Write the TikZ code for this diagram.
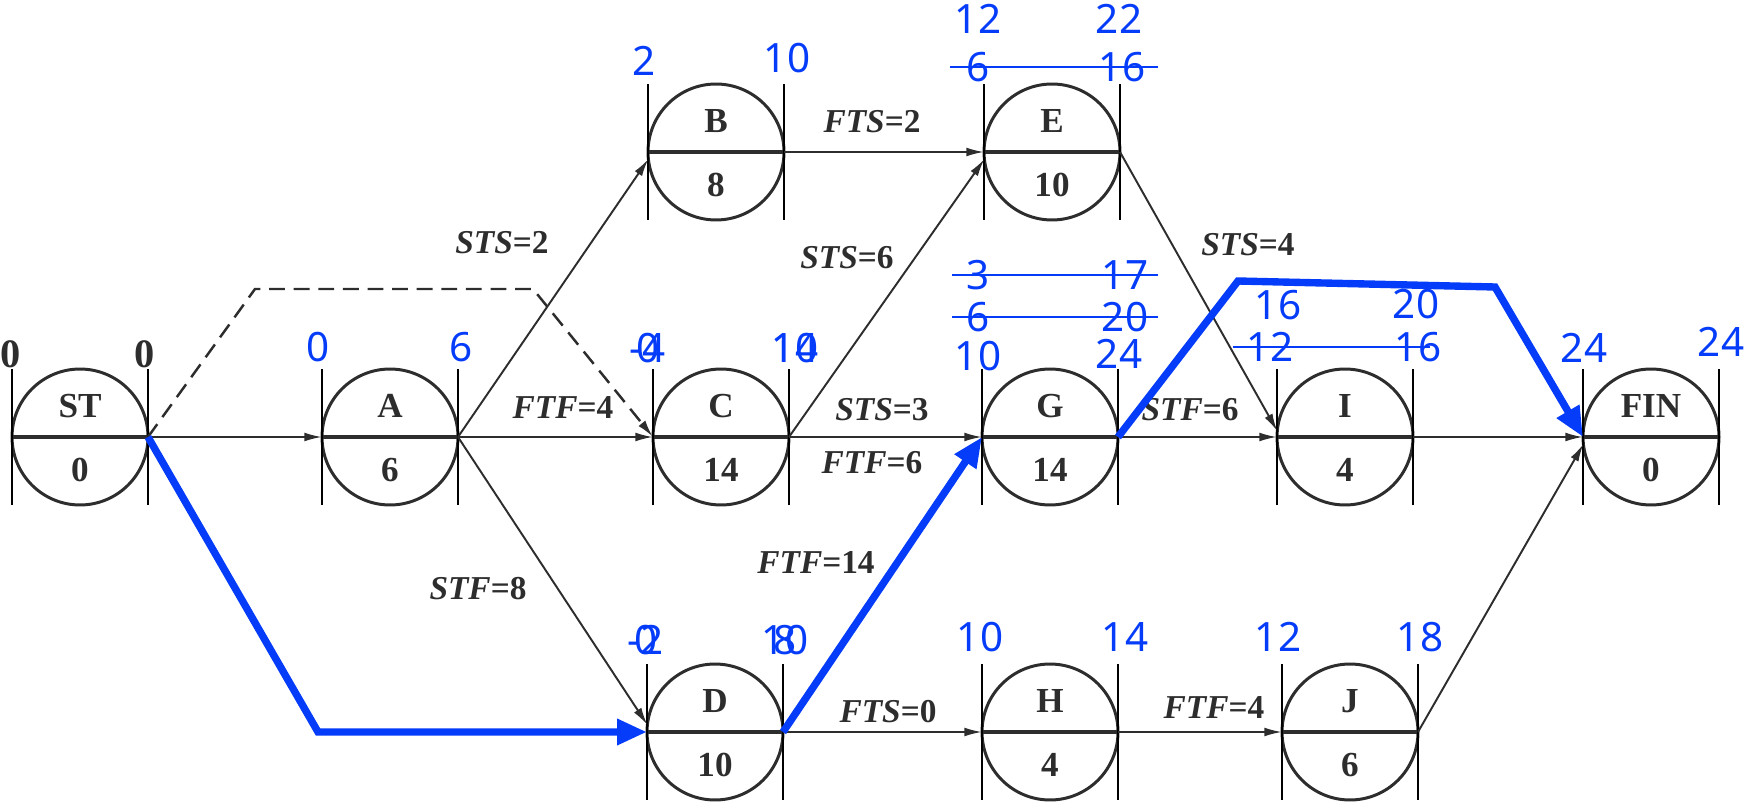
\documentclass[tikz,border=0pt]{standalone}
\usepackage{fontspec}
\setmainfont{Liberation Serif}
\newfontfamily\numfont{Noto Sans}
\usetikzlibrary{arrows.meta, calc}

\definecolor{cpmblue}{RGB}{5,60,250}
\definecolor{ink}{RGB}{45,45,45}

\begin{document}
\begin{tikzpicture}[
  x=0.02cm, y=-0.02cm,
  >=Latex,
  act/.style={draw=ink, circle, line width=1.7pt, minimum size=2.72cm, inner sep=0pt, outer sep=0pt},
  bar/.style={black, line width=1.3pt},
  diam/.style={ink, line width=2.4pt},
  link/.style={-{Latex[length=10pt,width=5pt]}, ink, line width=1.1pt},
  dashlink/.style={link, line width=1.4pt, dash pattern=on 9pt off 5pt},
  crit/.style={-{Triangle[length=17pt,width=14pt]}, cpmblue, line width=4.2pt,
    preaction={draw=gray, transform canvas={shift={(1pt,-1pt)}}}},
  lag/.style={font=\fontsize{19}{22}\selectfont\bfseries, text=ink},
  nm/.style={font=\fontsize{20}{24}\selectfont\bfseries, text=ink},
  st0/.style={font=\fontsize{23}{26}\selectfont\bfseries, text=ink},
  tm/.style={font=\numfont\fontsize{23}{26}\selectfont, text=cpmblue, inner sep=0pt},
  strike/.style={cpmblue, line width=0.9pt}
]
\useasboundingbox (0,0) rectangle (1746,803);

% activities: name / x / y / duration
\foreach \n/\x/\y/\d in {ST/80/437/0, A/390/437/6, B/716/152/8, C/721/437/14,
    D/715/732/10, E/1052/152/10, G/1050/437/14, H/1050/732/4, I/1345/437/4,
    J/1350/732/6, FIN/1651/437/0}{
  \node[act] (\n) at (\x,\y) {};
  \draw[diam] (\n.west) -- (\n.east);
  \draw[bar] ($(\n.west)+(0,-68)$) -- ($(\n.west)+(0,68)$);
  \draw[bar] ($(\n.east)+(0,-68)$) -- ($(\n.east)+(0,68)$);
  \node[nm] at ($(\n)+(0,-31)$) {\n};
  \node[nm] at ($(\n)+(0,33)$) {\d};
}

% start times of ST
\node[st0] (stES) at (11,354) {0};
\node[st0] (stEF) at (145,354) {0};

% links
\coordinate (stUp) at (255,289);
\coordinate (stOver) at (533,289);
\draw[link] (ST.east) -- (A.west);
\draw[dashlink] (ST.east) -- (stUp) -- (stOver) -- (C.west);
\draw[link] (A.east) -- (B.186);
\draw[link] (A.east) -- (C.west);
\draw[link] (A.east) -- (D.174);
\draw[link] (B.east) -- (E.west);
\draw[link] (C.east) -- (E.186);
\draw[link] (C.east) -- (G.west);
\draw[link] (D.east) -- (H.west);
\draw[link] (E.east) -- (I.175);
\draw[link] (G.east) -- (I.west);
\draw[link] (H.east) -- (J.west);
\draw[link] (I.east) -- (FIN.west);
\draw[link] (J.east) -- (FIN.186);

% lag labels
\node[lag] (lagAB) at (502,243) {{\itshape STS}=2};
\node[lag] (lagAC) at (563,408) {{\itshape FTF}=4};
\node[lag] (lagAD) at (478,589) {{\itshape STF}=8};
\node[lag] (lagBE) at (872,122) {{\itshape FTS}=2};
\node[lag] (lagCE) at (847,258) {{\itshape STS}=6};
\node[lag] (lagCGs) at (882,410) {{\itshape STS}=3};
\node[lag] (lagCGf) at (872,463) {{\itshape FTF}=6};
\node[lag] (lagDG) at (816,562) {{\itshape FTF}=14};
\node[lag] (lagDH) at (888,712) {{\itshape FTS}=0};
\node[lag] (lagEI) at (1248,245) {{\itshape STS}=4};
\node[lag] (lagGI) at (1190,410) {{\itshape STF}=6};
\node[lag] (lagHJ) at (1214,708) {{\itshape FTF}=4};

% critical path
\coordinate (stDrop) at (318,732);
\coordinate (gRise) at (1238,281);
\coordinate (gRun) at (1495,287);
\draw[crit] (ST.east) -- (stDrop) -- (D.west);
\draw[crit] (D.east) -- (G.west);
\draw[crit] (G.east) -- (gRise) -- (gRun) -- (FIN.west);

% times
\foreach \t/\x/\y in {0/318/347, 6/461/347, 2/644/61, 10/787/58, -4/648/348, 0/648/348,
    10/795/348, 14/795/348, -2/646/640, 0/646/640, 8/785/640, 10/785/640,
    12/978/19, 22/1119/19, 10/978/356, 24/1119/354, 10/980/637, 14/1125/637,
    16/1278/305, 20/1416/304, 12/1278/637, 18/1420/637, 24/1584/348, 24/1721/342}
  \node[tm] at (\x,\y) {\t};

\node[tm] (eES) at (978,67) {6};
\node[tm] (eEF) at (1122,67) {16};
\node[tm] (gES1) at (978,275) {3};
\node[tm] (gEF1) at (1125,275) {17};
\node[tm] (gES2) at (978,317) {6};
\node[tm] (gEF2) at (1125,317) {20};
\node[tm] (iES) at (1270,347) {12};
\node[tm] (iEF) at (1418,347) {16};
\draw[strike] ([xshift=-0.56cm]eES.center) -- ([xshift=0.72cm]eEF.center);
\draw[strike] ([xshift=-0.52cm]gES1.center) -- ([xshift=0.66cm]gEF1.center);
\draw[strike] ([xshift=-0.52cm]gES2.center) -- ([xshift=0.66cm]gEF2.center);
\draw[strike] ([xshift=-0.74cm]iES.center) -- ([xshift=0.24cm]iEF.center);
\end{tikzpicture}
\end{document}
